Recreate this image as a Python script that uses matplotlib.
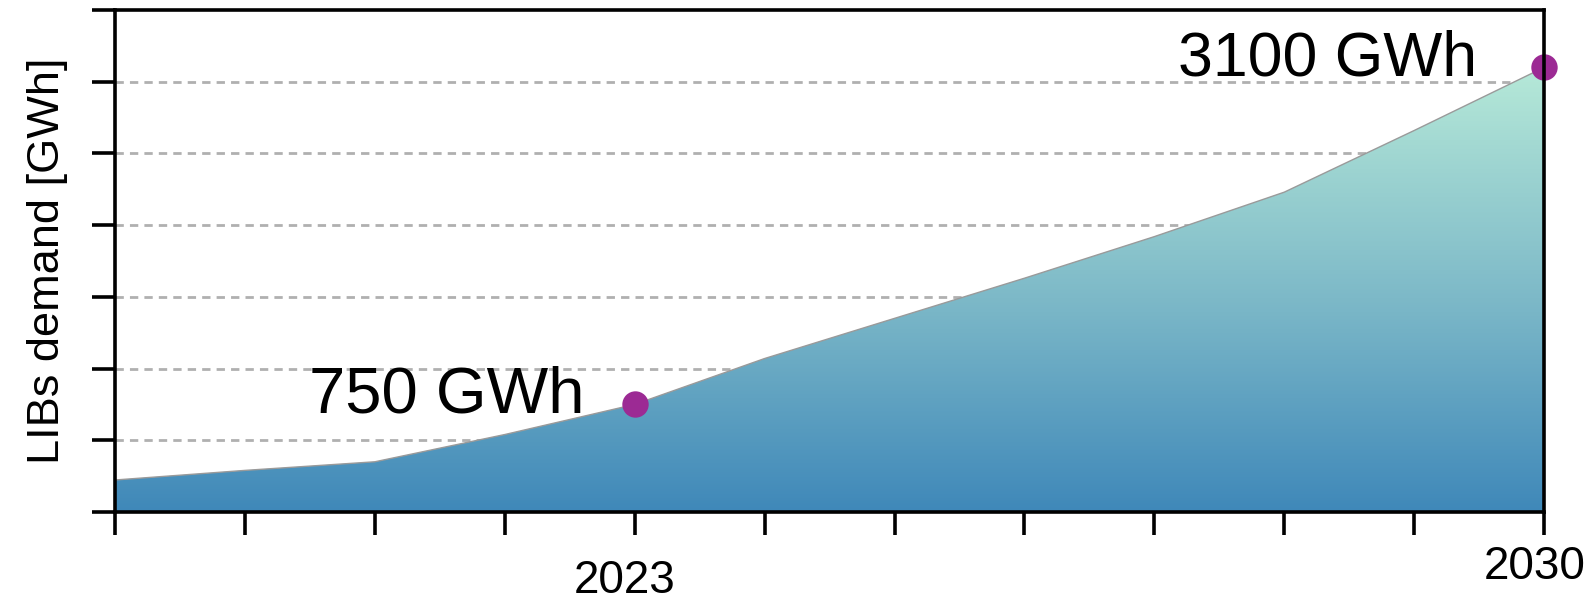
import numpy as np
import matplotlib
matplotlib.use('Agg')
import matplotlib.pyplot as plt
from matplotlib.colors import LinearSegmentedColormap
from matplotlib.transforms import ScaledTranslation

plt.rcParams['font.family'] = ['Liberation Sans', 'DejaVu Sans']

# LIBs demand, GWh per year
years = [2019, 2020, 2021, 2022, 2023, 2024, 2025, 2026, 2027, 2028, 2029, 2030]
demand = [223, 290, 350, 540, 750, 1070, 1350, 1630, 1920, 2230, 2660, 3100]
y_ticks = [0, 500, 1000, 1500, 2000, 2500, 3000, 3500]
x_labels = {2023: '2023', 2030: '2030'}
marked_years = [2023, 2030]
marked_text = ['750 GWh', '3100 GWh']

fig = plt.figure(figsize=(15.95, 6), dpi=100)
ax = fig.add_axes([0.0721, 0.1467, 0.8960, 0.8366])

ax.set_xlim(years[0], years[-1])
ax.set_ylim(y_ticks[0], y_ticks[-1])

# gradient fill clipped to the area under the curve
cmap = LinearSegmentedColormap.from_list(
    'libs', [(0.0, '#3f88b9'), (0.48, '#7db9c8'), (1.0, '#b6e9d8')])
grad = np.linspace(0, 1, 256).reshape(-1, 1)
img = ax.imshow(grad, cmap=cmap, origin='lower', aspect='auto',
                extent=[years[0], years[-1], 0, max(demand)], zorder=2)
poly = ax.fill_between(years, demand, 0, color='none', lw=0)
clip = poly.get_paths()[0]
img.set_clip_path(clip, transform=ax.transData)
ax.plot(years, demand, color='#9a9a9a', lw=1.0, zorder=3)

# dashed gridlines
for yv in y_ticks[1:-1]:
    ax.axhline(yv, color='#b0b0b0', lw=2, ls=(0, (3, 2.2)), zorder=1)

# highlighted points
for yr, txt in zip(marked_years, marked_text):
    val = demand[years.index(yr)]
    ax.plot(yr, val, 'o', color='#9c2a94', ms=19, mec='none', zorder=5, clip_on=False)
    if yr == 2023:
        off, fs = (-36, -6), 47
    else:
        off, fs = (-48, -6), 45
    ax.annotate(txt, (yr, val), xytext=off,
                textcoords='offset points', ha='right', va='baseline',
                fontsize=fs, color='black', zorder=6)

ax.set_xticks(years)
ax.set_xticklabels([x_labels.get(y, '') for y in years])
ax.set_yticks(y_ticks)
ax.set_yticklabels([])
ax.tick_params(axis='both', direction='out', length=16.5, width=2.6)
ax.tick_params(axis='x', labelsize=33, pad=17)
ax.xaxis.get_major_ticks()[-1].set_pad(7)

shift = ScaledTranslation(-7 / 72, 0, fig.dpi_scale_trans)
for lab in ax.get_xticklabels():
    lab.set_transform(lab.get_transform() + shift)

for s in ax.spines.values():
    s.set_linewidth(2.6)
    s.set_zorder(7)

ax.set_ylabel('LIBs demand [GWh]', fontsize=32.5, labelpad=14)

plt.savefig('out.png', dpi=100)
